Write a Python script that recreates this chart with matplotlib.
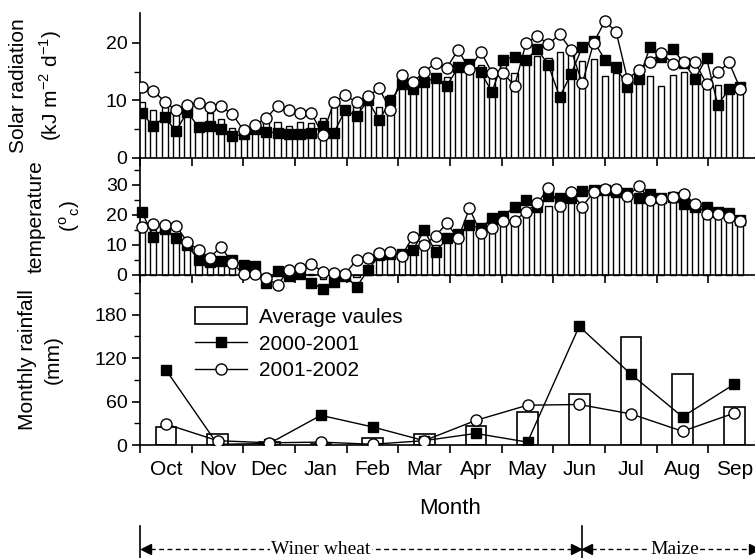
import numpy as np
import matplotlib
matplotlib.use("Agg")
import matplotlib.pyplot as plt
from matplotlib.patches import Patch
from matplotlib.lines import Line2D
from matplotlib.transforms import blended_transform_factory

plt.rcParams['font.family'] = ['Liberation Sans', 'DejaVu Sans']
plt.rcParams['mathtext.fontset'] = 'custom'
plt.rcParams['mathtext.rm'] = 'Liberation Sans'

months = ["Oct", "Nov", "Dec", "Jan", "Feb", "Mar", "Apr", "May", "Jun", "Jul", "Aug", "Sep"]

# weekly solar radiation (kJ m-2 d-1)
rad_avg = [9.8, 8.3, 10.5, 7.5, 8.7, 6.0, 7.8, 6.7, 5.2, 4.0,
           5.1, 6.6, 6.3, 5.5, 6.2, 6.0, 6.9, 8.9, 8.5, 9.0,
           9.8, 8.9, 11.0, 12.7, 12.7, 12.9, 13.7, 14.0, 16.2, 17.1,
           16.2, 14.6, 17.0, 14.8, 17.5, 17.7, 17.4, 18.4, 18.0, 16.9,
           17.2, 14.3, 14.8, 12.9, 14.6, 14.3, 12.5, 14.5, 14.9, 14.6,
           13.2, 12.7, 12.3, 12.5]
rad_0001 = [7.8, 5.5, 7.1, 4.7, 8.0, 5.4, 5.6, 5.0, 3.8, 4.1,
            5.0, 4.5, 4.4, 4.1, 4.1, 4.4, 5.6, 4.4, 8.3, 7.3,
            10.0, 6.6, 9.9, 12.8, 12.0, 13.2, 13.9, 12.5, 15.8, 16.3,
            14.9, 11.5, 17.1, 17.6, 17.0, 19.0, 16.1, 10.6, 14.6, 19.3,
            20.3, 17.1, 15.8, 12.4, 13.7, 19.3, 17.6, 19.0, 16.5, 13.8,
            17.4, 9.2, 12.0, 12.3]
rad_0102 = [12.4, 11.7, 9.8, 8.3, 9.2, 9.5, 8.8, 9.0, 7.6, 4.8,
            5.8, 6.9, 9.1, 8.3, 7.9, 7.8, 4.0, 9.8, 10.9, 9.7,
            10.7, 12.1, 8.3, 14.4, 13.2, 15.0, 16.5, 15.7, 18.8, 15.4,
            18.5, 14.8, 14.8, 12.5, 19.9, 21.2, 19.8, 21.5, 18.8, 13.0,
            20.0, 23.8, 21.9, 13.7, 15.3, 16.7, 18.3, 16.4, 16.6, 16.6,
            12.9, 14.9, 16.6, 12.0]

# weekly temperature (deg C)
temp_avg = [17, 15, 15.5, 13, 10, 6, 5, 4.5, 4, 2.5,
            1.5, 0.5, 0.5, 0.5, 0.5, 0.3, -1.2, -0.3, 0.3, -0.8,
            2.0, 5.5, 6.5, 6.5, 9, 10, 10, 13, 12, 16,
            14, 16.5, 18, 18, 21, 22, 23, 24, 25.5, 24,
            27, 28, 27.8, 26.5, 26, 25.5, 25.3, 26, 25, 23,
            20.8, 20.5, 19.5, 17.8]
temp_0001 = [20.9, 12.8, 15.4, 12.2, 10.0, 5.0, 4.2, 4.5, 5.0, 3.3,
             3.1, -2.6, 1.2, -0.2, 0.2, -2.6, -4.6, -2.2, -0.3, -3.9,
             1.5, 6.5, 7.0, 7.0, 8.3, 15.0, 7.6, 12.2, 13.6, 16.7,
             15.6, 18.9, 19.8, 22.6, 25.0, 22.8, 26.4, 25.6, 25.6, 28.0,
             28.3, 28.3, 27.8, 27.2, 25.8, 26.9, 25.6, 26.1, 23.6, 22.8,
             22.8, 20.9, 20.6, 18.3]
temp_0102 = [15.9, 16.9, 16.7, 16.4, 11.1, 8.3, 5.8, 9.4, 3.9, 0.2,
             0.2, -1.0, -3.3, 1.7, 2.2, 3.6, 1.1, 0.5, 0.4, 5.0,
             5.8, 7.2, 7.6, 6.4, 12.8, 10.0, 13.1, 17.2, 12.2, 22.2,
             13.9, 15.8, 18.1, 18.1, 21.1, 23.9, 28.9, 23.1, 27.6, 22.8,
             27.6, 28.7, 28.7, 26.3, 29.7, 25.0, 25.2, 26.1, 26.9, 23.7,
             20.3, 20.3, 19.4, 18.1]

# monthly rainfall (mm)
rain_avg = [25, 15, 4, 2, 9, 15, 26, 45, 71, 149, 98, 52]
rain_0001 = [104, 1, 2, 41, 25, 6, 16, 4, 164, 98, 39, 84]
rain_0102 = [29, 6, 3, 4, 1, 6, 34, 55, 56, 43, 19, 44]

W, H = 755, 558
fig = plt.figure(figsize=(W / 100, H / 100), dpi=100)

def rect(left, top, right, bottom):
    return [left / W, 1 - bottom / H, (right - left) / W, (bottom - top) / H]

ax1 = fig.add_axes(rect(140, 13, 760, 158))
ax2 = fig.add_axes(rect(140, 158, 760, 275))
ax3 = fig.add_axes(rect(140, 275, 760, 445))

n = len(rad_avg)
xw = 0.04 + np.arange(n) * (11.58 / (n - 1))
xm = np.arange(len(months)) + 0.5

TICK_FS = 14
LAB_FS = 15

def style(ax):
    for s in ("top", "right"):
        ax.spines[s].set_visible(False)
    for s in ("left", "bottom"):
        ax.spines[s].set_linewidth(1.2)
    ax.patch.set_visible(False)
    ax.set_xlim(0, 12)
    ax.set_xticks(np.arange(13))
    ax.set_xticklabels([])
    ax.tick_params(axis="both", which="major", direction="out", length=6, width=1.2,
                   labelsize=TICK_FS, pad=3)
    ax.tick_params(axis="y", which="minor", direction="out", length=4, width=1.0)

# --- Solar radiation
style(ax1)
ax1.bar(xw, rad_avg, width=0.12, facecolor="white", edgecolor="black", linewidth=1.0, zorder=2)
ax1.plot(xw, rad_0001, "-", color="black", lw=1.0, marker="s", ms=7.5, mfc="black", mec="black", zorder=3)
ax1.plot(xw, rad_0102, "-", color="black", lw=1.0, marker="o", ms=8, mfc="white", mec="black", mew=1.0, zorder=4)
ax1.set_ylim(0, 25.2)
ax1.set_yticks([0, 10, 20])
ax1.set_yticks([5, 15], minor=True)
ax1.set_ylabel("Solar radiation\n(kJ m$^{-2}$ d$^{-1}$)", fontsize=LAB_FS, linespacing=1.5)
ax1.yaxis.set_label_coords(-0.122, 0.5)

# --- Temperature
style(ax2)
ax2.bar(xw, temp_avg, width=0.12, facecolor="white", edgecolor="black", linewidth=1.0, zorder=2, clip_on=False)
ax2.plot(xw, temp_0001, "-", color="black", lw=1.0, marker="s", ms=7.5, mfc="black", mec="black", zorder=3, clip_on=False)
ax2.plot(xw, temp_0102, "-", color="black", lw=1.0, marker="o", ms=8, mfc="white", mec="black", mew=1.0, zorder=4, clip_on=False)
ax2.set_ylim(0, 39)
ax2.set_yticks([0, 10, 20, 30])
ax2.set_yticks([5, 15, 25, 35], minor=True)
ax2.set_ylabel("temperature\n($^{\\mathrm{o}}$$_{\\mathrm{c}}$)", fontsize=LAB_FS, linespacing=1.6)
ax2.yaxis.set_label_coords(-0.094, 0.5)

# --- Rainfall
style(ax3)
ax3.bar(xm, rain_avg, width=0.4, facecolor="white", edgecolor="black", linewidth=1.2, zorder=2)
ax3.plot(xm, rain_0001, "-", color="black", lw=1.0, marker="s", ms=7.5, mfc="black", mec="black", zorder=3)
ax3.plot(xm, rain_0102, "-", color="black", lw=1.0, marker="o", ms=8, mfc="white", mec="black", mew=1.0, zorder=4)
ax3.set_ylim(0, 235)
ax3.set_yticks([0, 60, 120, 180])
ax3.set_yticks([30, 90, 150, 210], minor=True)
ax3.set_xticks(xm, minor=True)
ax3.set_xticklabels(months, minor=True, fontsize=LAB_FS)
ax3.tick_params(axis="x", which="minor", length=0, pad=11)
ax3.set_ylabel("Monthly rainfall\n(mm)", fontsize=LAB_FS, linespacing=1.5)
ax3.yaxis.set_label_coords(-0.124, 0.5)

handles = [
    Patch(facecolor="white", edgecolor="black", linewidth=1.2),
    Line2D([], [], color="black", lw=1.0, marker="s", ms=7.5, mfc="black", mec="black"),
    Line2D([], [], color="black", lw=1.0, marker="o", ms=8, mfc="white", mec="black"),
]
ax3.legend(handles, ["Average vaules", "2000-2001", "2001-2002"], loc="upper left",
           bbox_to_anchor=(0.0887, 0.81), frameon=False, fontsize=LAB_FS,
           handlelength=2.5, handleheight=0.85, handletextpad=0.55, labelspacing=0.35,
           borderpad=0, borderaxespad=0, numpoints=1)

fig.text(450 / W, 1 - 509 / H, "Month", ha="center", va="center", fontsize=16)

# --- growing-season annotation
tr = blended_transform_factory(ax3.transData, fig.transFigure)
y_arrow = 1 - 549 / H
y_v0, y_v1 = 1 - 526 / H, 0.0
wheat_start, wheat_end, maize_end = 0.0, 8.55, 12.0
for xv in (wheat_start, wheat_end, maize_end):
    fig.add_artist(Line2D([xv, xv], [y_v0, y_v1], transform=tr, color="black", lw=1.2))
for a, b in ((wheat_start + 0.03, wheat_end - 0.03), (wheat_end + 0.03, maize_end - 0.03)):
    fig.add_artist(Line2D([a, b], [y_arrow, y_arrow], transform=tr, color="black", lw=1.0,
                          dashes=(3.5, 2.5)))
    fig.add_artist(Line2D([a + 0.08], [y_arrow], transform=tr, marker="<", ms=7, color="black", lw=0))
    fig.add_artist(Line2D([b - 0.08], [y_arrow], transform=tr, marker=">", ms=7, color="black", lw=0))
fig.text(3.5 / 12 * (620 / W) + 140 / W, y_arrow, "Winer wheat", ha="center", va="center",
         fontsize=14, family="Liberation Serif",
         bbox=dict(facecolor="white", edgecolor="none", pad=1.0))
fig.text(10.35 / 12 * (620 / W) + 140 / W, y_arrow, "Maize", ha="center", va="center",
         fontsize=14, family="Liberation Serif",
         bbox=dict(facecolor="white", edgecolor="none", pad=1.0))

fig.savefig("out.png", dpi=100)
